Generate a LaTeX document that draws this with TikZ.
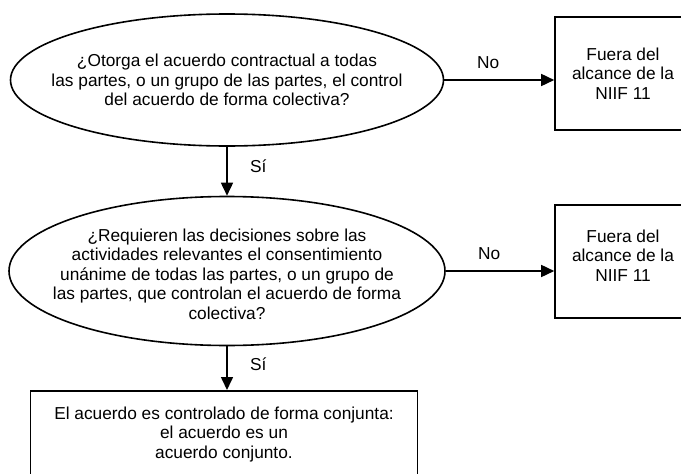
\documentclass[tikz,border=0pt]{standalone}
\usepackage{fontspec}
\setmainfont{Liberation Sans}
\usetikzlibrary{shapes.geometric,arrows.meta}
\begin{document}
\begin{tikzpicture}[x=1pt,y=-1pt,
  every node/.style={font=\fontsize{17.3}{19.5}\selectfont, align=center},
  decision/.style={draw, line width=1.6pt, ellipse, inner sep=-40pt},
  outbox/.style={draw, line width=1.6pt, rectangle, minimum width=136pt, minimum height=113pt, inner sep=0pt},
  flow/.style={line width=1.6pt, -{Triangle[length=13pt,width=12pt]}},
  lab/.style={inner sep=3.33pt}]
\clip (0,0) rectangle (681,474);
\node[decision, minimum width=433pt, minimum height=132pt] (e1) at (227,80)
  {¿Otorga el acuerdo contractual a todas\\las partes, o un grupo de las partes, el control\\del acuerdo de forma colectiva?};
\node[decision, minimum width=436pt, minimum height=149pt,
  label={[align=center, yshift=-3pt]center:{¿Requieren las decisiones sobre las\\actividades relevantes el consentimiento\\unánime de todas las partes, o un grupo de\\las partes, que controlan el acuerdo de forma\\colectiva?}}] (e2) at (227,271) {};
\node[outbox] (b1) at (623,73.5) {Fuera del\\alcance de la\\NIIF 11};
\node[outbox, label={[align=center, yshift=6pt]center:{Fuera del\\alcance de la\\NIIF 11}}] (b2) at (623,261.5) {};
\node[draw, line width=1.6pt, rectangle, anchor=north, minimum width=387pt, minimum height=120pt,
  label={[anchor=north, yshift=-13pt, align=center]north:{El acuerdo es controlado de forma conjunta:\\el acuerdo es un\\acuerdo conjunto.}}] (b3) at (224,390) {};
\draw[flow] (e1.east) -- node[lab, pos=0.4, above=7.3pt] (no1) {No} (e1.east -| b1.west);
\draw[flow] (e2.east) -- node[lab, pos=0.4, above=7.3pt] (no2) {No} (e2.east -| b2.west);
\draw[flow] (e1.south) -- node[lab, pos=0.4, right=19pt] (si1) {Sí} (e2.north);
\draw[flow] (e2.south) -- node[lab, pos=0.42, right=19pt] (si2) {Sí} (e2.south |- b3.north);
\end{tikzpicture}
\end{document}
